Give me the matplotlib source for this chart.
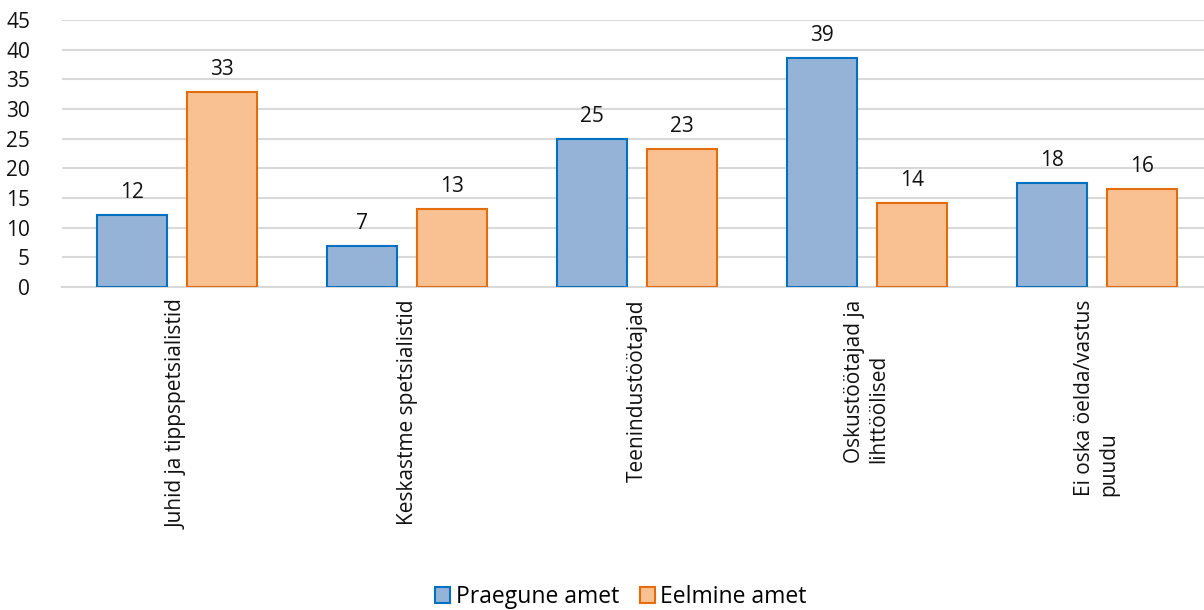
import matplotlib
matplotlib.use("Agg")
import matplotlib.pyplot as plt
import numpy as np
from matplotlib.patches import Patch

categories = ["Juhid ja tippspetsialistid", "Keskastme spetsialistid", "Teenindustöötajad",
              "Oskustöötajad ja\nlihttöölised", "Ei oska öelda/vastus\npuudu"]
praegune = [12.1, 6.9, 25.0, 38.6, 17.6]
eelmine = [32.9, 13.1, 23.3, 14.2, 16.5]
series_names = ["Praegune amet", "Eelmine amet"]
yticks = list(range(0, 50, 5))

plt.rcParams['font.family'] = ['Open Sans', 'DejaVu Sans']
FS = 15

fig = plt.figure(figsize=(12.04, 6.10), dpi=100)
ax = fig.add_axes([62/1204, 1-287/610, 1150/1204, (287-20)/610])

x = np.arange(len(categories))
w = 0.305
off = 0.195
ax.bar(x - off, praegune, w, color="#95B3D7", edgecolor="#0070C0", linewidth=1.5, zorder=3)
ax.bar(x + off, eelmine, w, color="#F9C192", edgecolor="#E46C0A", linewidth=1.5, zorder=3)

for xi, v in zip(x - off, praegune):
    ax.text(xi, v + 2.0, f"{round(v)}", ha="center", va="bottom", fontsize=FS, color="#111111")
for xi, v in zip(x + off, eelmine):
    ax.text(xi, v + 2.0, f"{round(v)}", ha="center", va="bottom", fontsize=FS, color="#111111")

ax.set_xlim(-0.5, len(categories) - 0.5)
ax.set_ylim(0, 45)
ax.set_yticks(yticks)
ax.yaxis.grid(True, color="#D9D9D9", linewidth=1.5, zorder=0)
ax.tick_params(axis="y", length=0, labelsize=FS, pad=23, labelcolor="#111111")
ax.tick_params(axis="x", length=0, labelsize=FS, pad=9, labelcolor="#111111")
ax.set_xticks(x)
ax.set_xticklabels(categories, rotation=90, va="top", ha="center", multialignment="left")
for s in ["top", "right", "left"]:
    ax.spines[s].set_visible(False)
ax.spines["bottom"].set_color("#D9D9D9")
ax.spines["bottom"].set_linewidth(1.5)

handles = [Patch(facecolor="#95B3D7", edgecolor="#0070C0", linewidth=1.5),
           Patch(facecolor="#F9C192", edgecolor="#E46C0A", linewidth=1.5)]
fig.legend(handles, series_names, loc="center", bbox_to_anchor=(621/1204, 1-597/610), ncol=2,
           frameon=False, fontsize=16.5, handlelength=0.65, handleheight=0.65,
           handletextpad=0.25, columnspacing=0.9)

fig.savefig("out.png", dpi=100)
